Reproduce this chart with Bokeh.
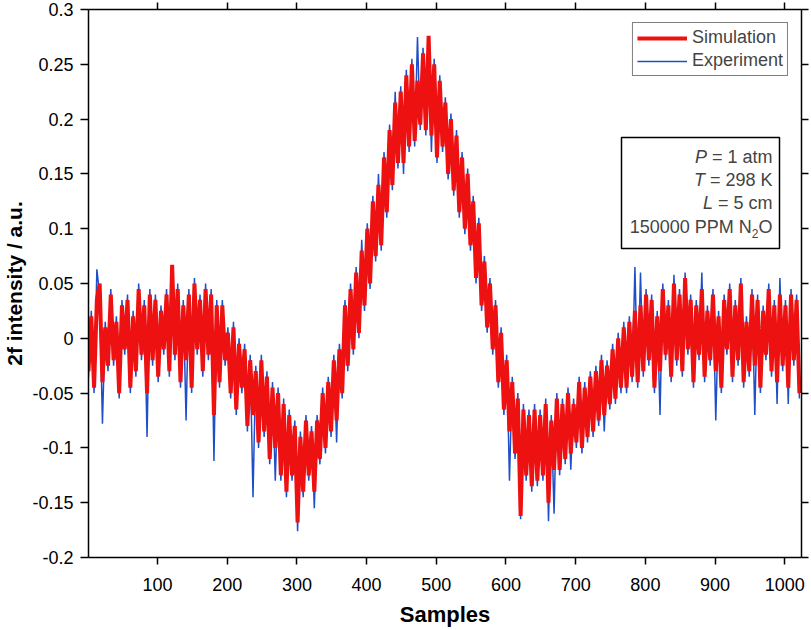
from bokeh.plotting import figure
from bokeh.models import (
    LinearAxis,
    Range1d,
    FixedTicker,
    CustomJSTickFormatter,
    Label,
    BoxAnnotation,
    Legend,
    LegendItem,
)
from bokeh.embed import file_html
from bokeh.resources import INLINE

FONT = "Liberation Sans"

# sample positions (every 4th of 1024 samples)
samples = list(range(1, 1024, 4))

# 2f signal, simulation (8 values per 32 samples)
simulation = [
    -0.030, 0.020, -0.045, 0.035, 0.050, -0.040, 0.010, -0.025,
    0.040, -0.020, 0.015, -0.050, 0.030, -0.010, 0.035, -0.045,
    0.020, -0.030, 0.045, -0.015, 0.030, -0.050, 0.040, -0.020,
    0.035, -0.035, 0.025, -0.010, 0.040, -0.030, 0.067, -0.015,
    0.045, -0.040, 0.030, -0.020, 0.040, -0.045, 0.050, -0.010,
    0.035, -0.030, 0.045, -0.015, 0.040, -0.070, 0.030, -0.040,
    0.030, -0.020, 0.005, -0.050, 0.010, -0.065, -0.005, -0.045,
    -0.010, -0.080, -0.020, -0.070, -0.030, -0.095, -0.020, -0.085,
    -0.035, -0.110, -0.045, -0.100, -0.050, -0.125, -0.060, -0.140,
    -0.070, -0.125, -0.080, -0.168, -0.090, -0.140, -0.075, -0.125,
    -0.085, -0.140, -0.075, -0.110, -0.050, -0.100, -0.040, -0.085,
    -0.020, -0.075, -0.010, -0.050, 0.030, -0.025, 0.045, -0.010,
    0.060, 0.005, 0.080, 0.030, 0.100, 0.050, 0.125, 0.075,
    0.140, 0.085, 0.165, 0.115, 0.190, 0.140, 0.215, 0.160,
    0.225, 0.160, 0.240, 0.175, 0.250, 0.180, 0.235, 0.195,
    0.260, 0.190, 0.276, 0.185, 0.250, 0.165, 0.235, 0.175,
    0.215, 0.150, 0.200, 0.135, 0.185, 0.115, 0.165, 0.100,
    0.150, 0.085, 0.125, 0.055, 0.105, 0.030, 0.070, 0.010,
    0.050, -0.010, 0.030, -0.040, 0.005, -0.065, -0.020, -0.085,
    -0.040, -0.105, -0.055, -0.162, -0.065, -0.125, -0.070, -0.135,
    -0.065, -0.130, -0.070, -0.125, -0.060, -0.150, -0.075, -0.120,
    -0.055, -0.120, -0.060, -0.110, -0.050, -0.105, -0.060, -0.095,
    -0.040, -0.100, -0.045, -0.090, -0.035, -0.085, -0.030, -0.075,
    -0.020, -0.070, -0.025, -0.060, -0.010, -0.055, 0.000, -0.045,
    0.010, -0.045, 0.015, -0.035, 0.025, -0.040, 0.030, -0.030,
    0.040, -0.020, 0.035, -0.045, 0.020, -0.030, 0.045, -0.015,
    0.030, -0.035, 0.050, -0.020, 0.040, -0.030, 0.055, -0.010,
    0.035, -0.040, 0.030, -0.015, 0.045, -0.035, 0.025, -0.020,
    0.040, -0.030, 0.020, -0.045, 0.035, -0.010, 0.045, -0.035,
    0.030, -0.020, 0.050, -0.040, 0.015, -0.030, 0.040, -0.025,
    0.035, -0.045, 0.025, -0.015, 0.045, -0.030, 0.030, -0.040,
    0.040, -0.025, 0.030, -0.045, 0.040, -0.020, 0.035, -0.050,
]

# 2f signal, experiment
experiment = [
    -0.035, 0.025, -0.050, 0.063, 0.040, -0.078, 0.015, -0.030,
    0.045, -0.025, 0.020, -0.055, 0.035, -0.015, 0.040, -0.050,
    0.025, -0.035, 0.050, -0.020, 0.035, -0.090, 0.045, -0.025,
    0.040, -0.040, 0.030, -0.015, 0.045, -0.035, 0.062, -0.020,
    0.050, -0.045, 0.035, -0.075, 0.045, -0.050, 0.055, -0.015,
    0.040, -0.035, 0.050, -0.020, 0.045, -0.112, 0.035, -0.045,
    0.035, -0.025, 0.010, -0.055, 0.015, -0.070, 0.000, -0.050,
    -0.005, -0.085, -0.015, -0.145, -0.025, -0.100, -0.015, -0.090,
    -0.030, -0.115, -0.040, -0.130, -0.045, -0.130, -0.055, -0.145,
    -0.065, -0.130, -0.075, -0.176, -0.085, -0.145, -0.070, -0.130,
    -0.080, -0.155, -0.070, -0.115, -0.045, -0.105, -0.035, -0.090,
    -0.015, -0.095, -0.005, -0.055, 0.035, -0.030, 0.050, -0.015,
    0.065, 0.000, 0.090, 0.025, 0.105, 0.045, 0.130, 0.070,
    0.150, 0.080, 0.170, 0.110, 0.195, 0.135, 0.225, 0.155,
    0.230, 0.150, 0.245, 0.170, 0.255, 0.175, 0.275, 0.190,
    0.265, 0.185, 0.270, 0.170, 0.255, 0.160, 0.240, 0.170,
    0.220, 0.145, 0.205, 0.130, 0.190, 0.110, 0.170, 0.095,
    0.155, 0.080, 0.130, 0.050, 0.110, 0.025, 0.075, 0.005,
    0.055, -0.015, 0.035, -0.045, 0.010, -0.070, -0.015, -0.130,
    -0.035, -0.110, -0.050, -0.165, -0.060, -0.130, -0.065, -0.140,
    -0.060, -0.135, -0.065, -0.130, -0.055, -0.167, -0.070, -0.160,
    -0.050, -0.125, -0.055, -0.115, -0.045, -0.120, -0.055, -0.100,
    -0.035, -0.105, -0.040, -0.095, -0.030, -0.090, -0.025, -0.080,
    -0.015, -0.085, -0.020, -0.065, -0.005, -0.060, 0.005, -0.050,
    0.015, -0.050, 0.020, -0.040, 0.065, -0.045, 0.060, -0.035,
    0.045, -0.025, 0.040, -0.050, 0.025, -0.070, 0.050, -0.020,
    0.035, -0.040, 0.058, -0.025, 0.045, -0.035, 0.060, -0.015,
    0.040, -0.045, 0.035, -0.020, 0.060, -0.040, 0.030, -0.025,
    0.045, -0.075, 0.025, -0.050, 0.040, -0.015, 0.050, -0.040,
    0.035, -0.025, 0.055, -0.045, 0.020, -0.035, 0.045, -0.070,
    0.040, -0.050, 0.030, -0.020, 0.050, -0.035, 0.035, -0.060,
    0.055, -0.030, 0.035, -0.060, 0.045, -0.025, 0.040, -0.055,
]

x_ticks = [100, 200, 300, 400, 500, 600, 700, 800, 900, 1000]
y_ticks = [-0.2, -0.15, -0.1, -0.05, 0, 0.05, 0.1, 0.15, 0.2, 0.25, 0.3]

info_lines = [("P", "= 1 atm"), ("T", "= 298 K"), ("L", "= 5 cm")]

FW, FH = 713, 548

p = figure(
    frame_width=FW,
    frame_height=FH,
    min_border_left=87,
    min_border_right=10,
    min_border_top=9,
    min_border_bottom=72,
    x_range=Range1d(1, 1024),
    y_range=Range1d(-0.2, 0.3),
    output_backend="svg",
    toolbar_location=None,
    tools="",
)
p.outline_line_color = None
p.xgrid.visible = False
p.ygrid.visible = False
p.background_fill_color = "white"
p.border_fill_color = "white"

r_exp = p.line(samples, experiment, line_color="#1f4fc8", line_width=1.5)
r_sim = p.line(samples, simulation, line_color="#ee1111", line_width=4)


def style_axis(ax):
    ax.axis_line_color = "black"
    ax.axis_line_width = 1.5
    ax.major_tick_line_color = "black"
    ax.major_tick_line_width = 1.5
    ax.major_tick_in = 0
    ax.major_tick_out = 7
    ax.minor_tick_in = 0
    ax.minor_tick_out = 0
    ax.major_label_text_font = FONT
    ax.major_label_text_font_size = "18px"
    ax.major_label_text_color = "black"
    ax.axis_label_text_font = FONT
    ax.axis_label_text_font_style = "bold"
    ax.axis_label_text_color = "black"


xb = p.xaxis[0]
xb.ticker = FixedTicker(ticks=x_ticks)
style_axis(xb)
xb.major_label_standoff = 13
xb.axis_label = "Samples"
xb.axis_label_text_font_size = "22px"
xb.axis_label_standoff = 8

yl = p.yaxis[0]
yl.ticker = FixedTicker(ticks=y_ticks)
yl.formatter = CustomJSTickFormatter(code="return String(Number(tick.toFixed(2)))")
style_axis(yl)
yl.major_tick_out = 8
yl.major_label_standoff = 7
yl.axis_label = "2f intensity / a.u."
yl.axis_label_text_font_size = "21px"
yl.axis_label_standoff = 3

blank = CustomJSTickFormatter(code="return ''")
xt = LinearAxis(ticker=FixedTicker(ticks=x_ticks), formatter=blank)
yr = LinearAxis(ticker=FixedTicker(ticks=y_ticks), formatter=blank)
for ax in (xt, yr):
    style_axis(ax)
    ax.major_label_text_font_size = "1px"
    ax.major_label_standoff = 0
p.add_layout(xt, "above")
p.add_layout(yr, "right")

# legend
legend = Legend(
    items=[LegendItem(label="Simulation", renderers=[r_sim]),
           LegendItem(label="Experiment", renderers=[r_exp])],
    location="top_right",
    margin=13,
    padding=4,
    spacing=2,
    glyph_width=50,
    glyph_height=20,
    label_height=20,
    label_standoff=5,
    label_text_font=FONT,
    label_text_font_size="18px",
    border_line_color="black",
    border_line_width=1.5,
    background_fill_color="white",
    background_fill_alpha=1,
)
p.add_layout(legend)

# conditions box (positions in px from the frame's bottom-left)
p.add_layout(BoxAnnotation(left=533, right=691, top=420, bottom=309,
                           left_units="screen", right_units="screen",
                           top_units="screen", bottom_units="screen",
                           fill_color="white", fill_alpha=1,
                           line_color="black", line_alpha=1, line_width=1.5))

fsz = 18
rx = 684
ys = [401, 378, 355, 331]
rest_em = {"= 1 atm": 3.363, "= 298 K": 3.475, "= 5 cm": 3.029}
for (sym, rest), yy in zip(info_lines, ys):
    p.add_layout(Label(x=rx, y=yy, x_units="screen", y_units="screen",
                       text=rest, text_font=FONT, text_font_size=f"{fsz}px",
                       text_align="right", text_baseline="middle"))
    p.add_layout(Label(x=rx - rest_em[rest] * fsz - 5, y=yy, x_units="screen",
                       y_units="screen", text=sym, text_font=FONT,
                       text_font_size=f"{fsz}px", text_font_style="italic",
                       text_align="right", text_baseline="middle"))

# 150000 PPM N2O with subscript
yy = ys[3]
p.add_layout(Label(x=rx, y=yy, x_units="screen", y_units="screen", text="O",
                   text_font=FONT, text_font_size=f"{fsz}px",
                   text_align="right", text_baseline="middle"))
p.add_layout(Label(x=rx - 14, y=yy - 7, x_units="screen", y_units="screen",
                   text="2", text_font=FONT, text_font_size="12px",
                   text_align="right", text_baseline="middle"))
p.add_layout(Label(x=rx - 14 - 6.7, y=yy, x_units="screen", y_units="screen",
                   text="150000 PPM N", text_font=FONT,
                   text_font_size=f"{fsz}px", text_align="right",
                   text_baseline="middle"))

open("out.html", "w").write(file_html(p, INLINE))
